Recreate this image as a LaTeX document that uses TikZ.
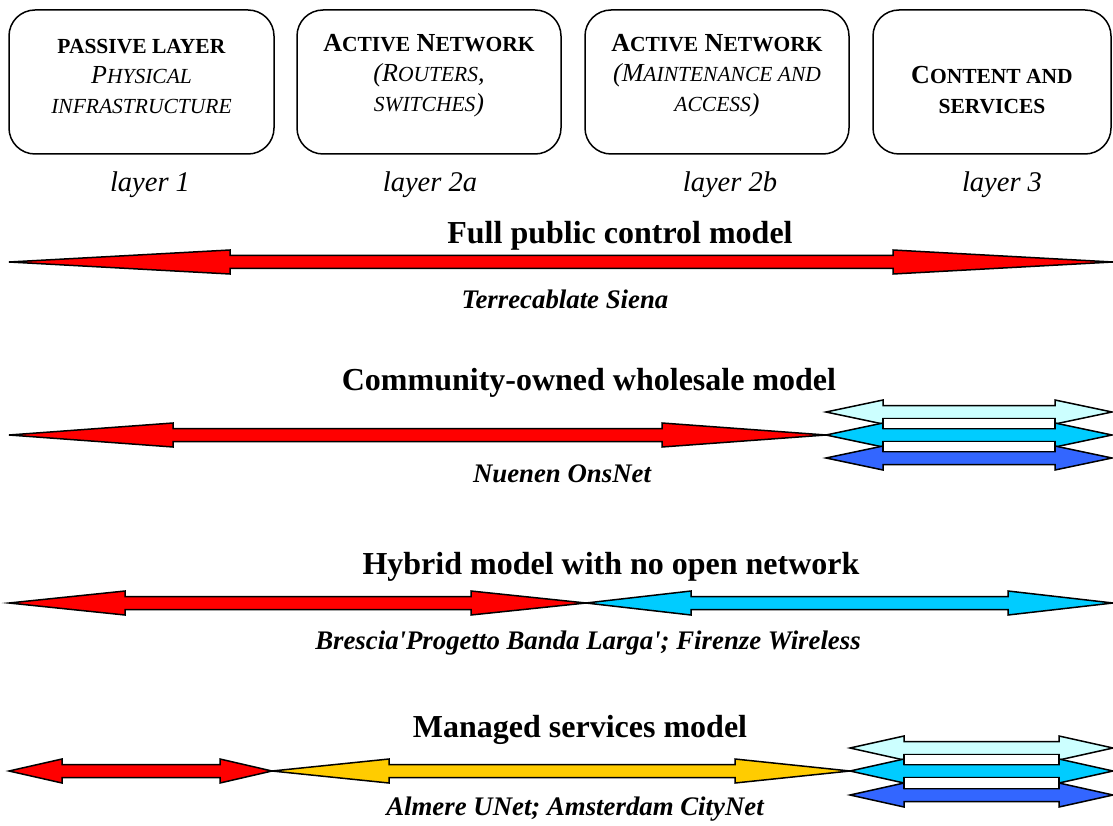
\documentclass[tikz,border=0pt]{standalone}
\usepackage{fontspec}
\setmainfont{Liberation Serif}[Ligatures=TeXOff]
\definecolor{cred}{HTML}{FF0000}
\definecolor{clcyan}{HTML}{CCFFFF}
\definecolor{ccyan}{HTML}{00CCFF}
\definecolor{cblue}{HTML}{3366FF}
\definecolor{cyellow}{HTML}{FFCC00}
\newcommand\SCx[1]{{\fontsize{21.5}{30}\selectfont #1}}
% double arrow: x1 x2 y headleft headright fill
\newcommand\darrow[6]{%
  \draw[arr, fill=#6] (#1,#3) -- ({#1+#4},{#3-12}) -- ({#1+#4},{#3-6.5}) -- ({#2-#5},{#3-6.5})
    -- ({#2-#5},{#3-12}) -- (#2,#3) -- ({#2-#5},{#3+12}) -- ({#2-#5},{#3+6.5})
    -- ({#1+#4},{#3+6.5}) -- ({#1+#4},{#3+12}) -- cycle;}
% stack of three arrows: x1 x2 y1 y2 y3 headlen
\newcommand\stackarr[6]{%
  \darrow{#1}{#2}{#3}{#6}{#6}{clcyan}
  \darrow{#1}{#2}{#4}{#6}{#6}{ccyan}
  \darrow{#1}{#2}{#5}{#6}{#6}{cblue}
  \draw[arr, fill=white] ({#1+#6},{#3+6.5}) rectangle ({#2-#6},{#4-6.5});
  \draw[arr, fill=white] ({#1+#6},{#4+6.5}) rectangle ({#2-#6},{#5-6.5});}
\begin{document}
\begin{tikzpicture}[x=1pt,y=-1pt,
  box/.style={draw, line width=1.5pt, rounded corners=26pt, inner sep=0pt},
  boxtext/.style={align=center, font=\fontsize{26}{30}\selectfont},
  layerlbl/.style={font=\fontsize{28.5}{30}\selectfont\itshape},
  title/.style={font=\fontsize{32}{36}\selectfont\bfseries},
  example/.style={font=\fontsize{26.8}{30}\selectfont\bfseries\itshape},
  arr/.style={draw=black, line width=1.5pt, line join=miter}]
\useasboundingbox (0,0) rectangle (1113,826);

% layer boxes
\node[box, minimum width=265pt, minimum height=144pt] (b1) at (141.5,82) {};
\node[box, minimum width=264pt, minimum height=144pt] (b2) at (429,82) {};
\node[box, minimum width=264pt, minimum height=144pt] (b3) at (717,82) {};
\node[box, minimum width=238pt, minimum height=144pt] (b4) at (992,82) {};

\node[boxtext] (t1) at (141.5,76) {\textbf{\SCx{PASSIVE LAYER}}\\ \textit{P\SCx{HYSICAL}}\\ \textit{\SCx{INFRASTRUCTURE}}};
\node[boxtext] (t2) at (429,76) {\textbf{A\SCx{CTIVE} N\SCx{ETWORK}}\\ \textit{(R\SCx{OUTERS},}\\ \textit{\SCx{SWITCHES})}};
\node[boxtext] (t3) at (717,76) {\textbf{A\SCx{CTIVE} N\SCx{ETWORK}}\\ \textit{(M\SCx{AINTENANCE AND}}\\ \textit{\SCx{ACCESS})}};
\node[boxtext] (t4) at (992,90) {\textbf{C\SCx{ONTENT AND}}\\ \textbf{\SCx{SERVICES}}};

\node[layerlbl] (l1) at (150,185) {layer 1};
\node[layerlbl] (l2a) at (430,185) {layer 2a};
\node[layerlbl] (l2b) at (730,185) {layer 2b};
\node[layerlbl] (l3) at (1002,185) {layer 3};

% model 1
\node[title] (m1) at (620,236) {Full public control model};
\darrow{9}{1113}{262}{221}{220}{cred}
\node[example] (e1) at (565,299) {Terrecablate Siena};

% model 2
\node[title] (m2) at (589,383) {Community-owned wholesale model};
\darrow{9}{826}{435}{164}{164}{cred}
\stackarr{826}{1112}{412}{435}{458}{57}
\node[example] (e2) at (562,474) {Nuenen OnsNet};

% model 3
\node[title] (m3) at (611,567) {Hybrid model with no open network};
\darrow{9}{586}{603}{116}{115}{cred}
\darrow{586}{1113}{603}{105}{105}{ccyan}
\node[example] (e3) at (588,643) {Brescia'Progetto Banda Larga'; Firenze Wireless};

% model 4
\node[title] (m4) at (580,730) {Managed services model};
\darrow{9}{272}{771}{53}{52}{cred}
\darrow{272}{850}{771}{117}{115}{cyellow}
\stackarr{850}{1113}{748}{771}{795}{54}
\node[example] (e4) at (575,809) {Almere UNet; Amsterdam CityNet};
\end{tikzpicture}
\end{document}
